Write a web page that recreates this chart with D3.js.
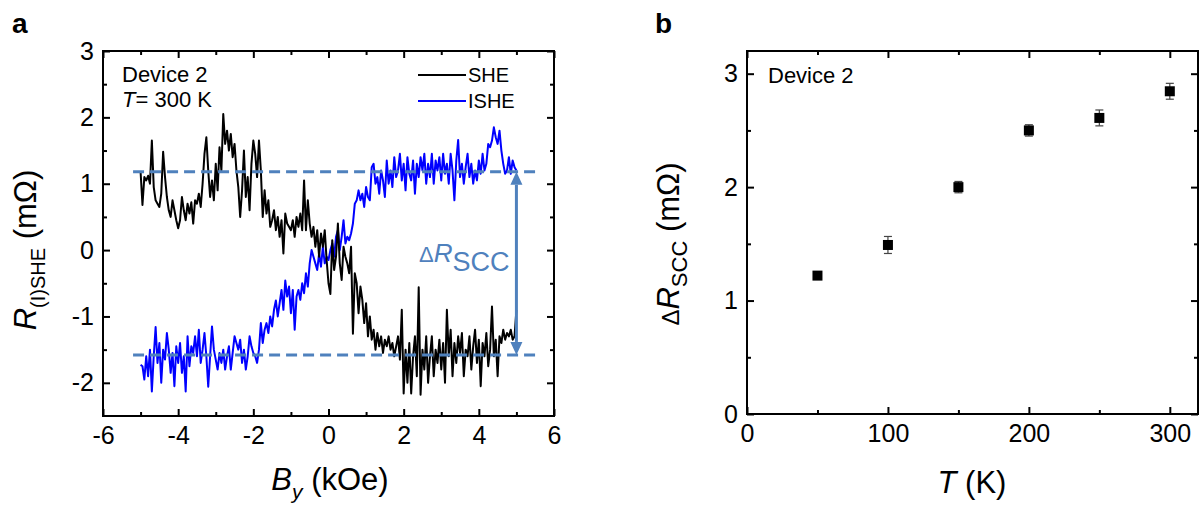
<!DOCTYPE html>
<html>
<head>
<meta charset="utf-8">
<script src="https://cdn.jsdelivr.net/npm/d3@7"></script>
<style>
  body { margin: 0; background: #fff; }
  svg { display: block; }
</style>
</head>
<body>
<div id="chart"></div>
<script>
// -------------------- DATA --------------------

// panel a: field sweep (kOe) and the two signals (mOhm)
const fieldB = [
  -5,-4.95,-4.9,-4.85,-4.8,-4.75,-4.7,-4.65,-4.6,-4.55,-4.5,-4.45,-4.4,-4.35,-4.3,-4.25,-4.2,-4.15,-4.1,-4.05,
  -4,-3.95,-3.9,-3.85,-3.8,-3.75,-3.7,-3.65,-3.6,-3.55,-3.5,-3.45,-3.4,-3.35,-3.3,-3.25,-3.2,-3.15,-3.1,-3.05,
  -3,-2.95,-2.9,-2.85,-2.8,-2.75,-2.7,-2.65,-2.6,-2.55,-2.5,-2.45,-2.4,-2.35,-2.3,-2.25,-2.2,-2.15,-2.1,-2.05,
  -2,-1.95,-1.9,-1.85,-1.8,-1.75,-1.7,-1.65,-1.6,-1.55,-1.5,-1.45,-1.4,-1.35,-1.3,-1.25,-1.2,-1.15,-1.1,-1.05,
  -1,-0.95,-0.9,-0.85,-0.8,-0.75,-0.7,-0.65,-0.6,-0.55,-0.5,-0.45,-0.4,-0.35,-0.3,-0.25,-0.2,-0.15,-0.1,-0.05,
  0,0.05,0.1,0.15,0.2,0.25,0.3,0.35,0.4,0.45,0.5,0.55,0.6,0.65,0.7,0.75,0.8,0.85,0.9,0.95,
  1,1.05,1.1,1.15,1.2,1.25,1.3,1.35,1.4,1.45,1.5,1.55,1.6,1.65,1.7,1.75,1.8,1.85,1.9,1.95,
  2,2.05,2.1,2.15,2.2,2.25,2.3,2.35,2.4,2.45,2.5,2.55,2.6,2.65,2.7,2.75,2.8,2.85,2.9,2.95,
  3,3.05,3.1,3.15,3.2,3.25,3.3,3.35,3.4,3.45,3.5,3.55,3.6,3.65,3.7,3.75,3.8,3.85,3.9,3.95,
  4,4.05,4.1,4.15,4.2,4.25,4.3,4.35,4.4,4.45,4.5,4.55,4.6,4.65,4.7,4.75,4.8,4.85,4.9,4.95,5
];

const sheR = [
  1.18,0.68,1.1,1.05,1.12,1.0,1.65,0.95,0.75,0.7,0.65,0.85,1.48,1.1,0.8,0.6,0.5,0.75,0.6,0.45,
  0.33,0.45,0.8,0.6,0.45,0.7,0.55,0.72,0.4,0.75,0.7,0.85,0.65,1.0,1.45,1.7,1.2,0.8,1.05,0.75,
  1.3,0.9,1.55,1.2,2.05,1.6,1.8,1.5,1.75,1.4,1.6,1.2,0.95,0.5,0.9,1.5,0.8,1.1,0.6,1.3,
  1.65,1.45,1.1,1.65,1.2,0.5,0.9,0.55,0.75,0.35,0.45,0.6,0.3,0.5,0.2,0.45,-0.05,0.55,0.4,0.35,
  0.3,0.45,0.2,0.5,0.35,0.55,0.3,1.05,0.3,0.75,0.4,0.2,0.35,0.05,0.3,-0.1,0.25,0.05,0.3,-0.15,
  -0.5,-0.66,0.15,-0.3,-0.1,0.4,-0.2,-0.45,0.05,-0.1,-0.2,-0.35,0.05,-1.26,-0.35,-0.5,-0.95,-0.55,-0.75,-1.1,
  -0.8,-1.3,-1.0,-1.35,-1.2,-1.5,-1.25,-1.45,-1.3,-1.55,-1.35,-1.45,-1.3,-1.5,-1.4,-1.6,-1.45,-1.3,-1.65,-0.9,
  -2.16,-1.5,-2.0,-1.4,-2.16,-1.6,-1.3,-1.9,-0.56,-2.18,-1.5,-1.8,-1.3,-2.0,-1.6,-1.3,-1.9,-1.5,-1.7,-1.35,
  -1.8,-1.4,-2.0,-0.9,-1.6,-1.2,-1.9,-1.4,-1.7,-1.3,-1.55,-1.25,-1.9,-1.5,-1.6,-1.3,-1.8,-1.45,-1.2,-1.7,
  -1.35,-2.05,-1.4,-1.6,-1.25,-1.75,-1.5,-0.85,-1.6,-1.35,-1.9,-1.3,-1.4,-1.2,-1.35,-1.25,-1.3,-1.2,-1.35,-1.3,-0.9
];

const isheR = [
  -1.73,-1.75,-1.95,-1.6,-1.9,-1.5,-2.13,-1.6,-1.16,-1.7,-1.4,-2.0,-1.5,-1.65,-1.25,-1.5,-1.85,-1.55,-2.05,-1.45,
  -1.7,-1.4,-1.85,-1.6,-2.13,-1.3,-1.75,-1.45,-1.55,-1.3,-1.6,-1.2,-1.7,-1.5,-1.25,-1.6,-2.06,-1.6,-1.15,-1.5,
  -1.65,-1.8,-1.55,-1.7,-1.5,-1.8,-1.6,-1.45,-1.8,-1.55,-1.3,-1.4,-1.5,-1.35,-1.7,-1.5,-1.8,-1.6,-1.3,-1.45,
  -1.55,-1.6,-1.7,-1.5,-1.1,-1.4,-1.2,-1.1,-1.25,-1.0,-1.15,-0.9,-0.76,-1.0,-0.8,-0.6,-0.9,-0.46,-0.7,-0.55,
  -0.95,-0.6,-1.2,-0.7,-0.6,-0.75,-0.5,-0.65,-0.35,-0.55,-0.2,0.0,-0.1,-0.2,-0.3,-0.05,-0.25,0.05,-0.2,-0.1,
  -0.15,0.0,0.1,-0.1,0.2,0.3,0.0,0.2,0.45,0.1,0.2,0.15,0.25,0.4,0.7,0.75,0.9,0.75,0.85,0.65,
  0.95,0.8,0.75,1.25,1.3,1.0,1.1,0.85,1.2,1.05,0.8,1.35,1.0,1.2,0.95,1.4,1.1,1.2,1.45,1.05,
  1.3,0.9,1.4,1.15,1.05,1.35,0.85,1.3,1.1,1.4,1.2,1.45,1.0,1.3,1.1,1.45,1.0,1.35,1.2,1.4,
  1.05,1.45,1.15,1.3,1.0,1.45,1.2,0.75,1.35,1.66,1.1,1.3,1.0,1.25,1.45,1.1,1.3,1.0,1.2,1.05,
  1.35,1.15,1.45,1.2,1.3,1.6,1.55,1.65,1.85,1.7,1.6,1.8,1.5,1.3,1.15,1.2,1.4,1.15,1.35,1.25,1.2
];

// the two saturation levels and where the guide lines / arrow sit
const levelHigh = 1.18, levelLow = -1.58;
const guideFrom = -5.2, guideTo = 5.55, arrowAt = 5.0;

// panel b: temperature dependence
const tempsK = [50, 100, 150, 200, 250, 300];
const deltaR = [1.22, 1.49, 2.0, 2.5, 2.61, 2.845];
const deltaErr = [0.02, 0.075, 0.05, 0.05, 0.07, 0.07];

// ticks
const aXTicks = [-6, -4, -2, 0, 2, 4, 6], aXMinor = [-5, -3, -1, 1, 3, 5];
const aYTicks = [-2, -1, 0, 1, 2, 3], aYMinor = [-1.5, -0.5, 0.5, 1.5, 2.5];
const bXTicks = [0, 100, 200, 300], bXMinor = [50, 150, 250];
const bYTicks = [0, 1, 2, 3], bYMinor = [0.5, 1.5, 2.5];

// -------------------- DRAWING --------------------

const W = 1199, H = 508;
const font = "'Liberation Sans', Arial, sans-serif";
const accent = "#4f81bd";

const svg = d3.select("#chart").append("svg")
  .attr("width", W).attr("height", H)
  .attr("viewBox", [0, 0, W, H])
  .style("font-family", font);

// plain hyphen minus, like the original
const tickFmt = d => String(d);

// draws the frame with inward ticks on all four sides
function frame(g, x, y, xt, xm, yt, ym, fs) {
  const [x0, x1] = x.range(), [y0, y1] = y.range();
  const styleAxis = a => a.call(s => s.select(".domain").remove())
    .call(s => s.selectAll(".tick line").attr("stroke", "#000").attr("stroke-width", 2))
    .call(s => s.selectAll("text").attr("font-size", fs).attr("fill", "#000").attr("font-family", font));

  g.append("g").attr("transform", `translate(0,${y0})`)
    .call(d3.axisBottom(x).tickValues(xt).tickSize(-7).tickPadding(10).tickFormat(tickFmt))
    .call(styleAxis);
  g.append("g").attr("transform", `translate(0,${y0})`)
    .call(d3.axisBottom(x).tickValues(xm).tickSize(-4).tickFormat(""))
    .call(styleAxis);
  g.append("g").attr("transform", `translate(0,${y1})`)
    .call(d3.axisTop(x).tickValues(xt.concat(xm)).tickSize(0).tickFormat(""))
    .call(styleAxis)
    .call(s => s.selectAll(".tick line").attr("y2", d => xt.includes(d) ? 7 : 4));
  g.append("g").attr("transform", `translate(${x0},0)`)
    .call(d3.axisLeft(y).tickValues(yt).tickSize(-7).tickPadding(9).tickFormat(tickFmt))
    .call(styleAxis);
  g.append("g").attr("transform", `translate(${x0},0)`)
    .call(d3.axisLeft(y).tickValues(ym).tickSize(-4).tickFormat(""))
    .call(styleAxis);
  g.append("g").attr("transform", `translate(${x1},0)`)
    .call(d3.axisRight(y).tickValues(yt.concat(ym)).tickSize(0).tickFormat(""))
    .call(styleAxis)
    .call(s => s.selectAll(".tick line").attr("x2", d => yt.includes(d) ? -7 : -4));

  g.append("rect")
    .attr("x", x0).attr("y", y1)
    .attr("width", x1 - x0).attr("height", y0 - y1)
    .attr("fill", "none").attr("stroke", "#000").attr("stroke-width", 2);
}

// ---------- panel a ----------
const xa = d3.scaleLinear().domain([-6, 6]).range([103, 554]);
const ya = d3.scaleLinear().domain([-2.5, 3]).range([416, 51]);
const ga = svg.append("g");

const lineA = d3.line().x((d, i) => xa(fieldB[i])).y(d => ya(d));

ga.append("path").datum(isheR)
  .attr("d", lineA).attr("fill", "none")
  .attr("stroke", "#0000ff").attr("stroke-width", 2).attr("stroke-linejoin", "round");
ga.append("path").datum(sheR)
  .attr("d", lineA).attr("fill", "none")
  .attr("stroke", "#000").attr("stroke-width", 2).attr("stroke-linejoin", "round");

// dashed guides
ga.append("g").selectAll("line")
  .data([levelHigh, levelLow])
  .join("line")
  .attr("x1", xa(guideFrom)).attr("x2", xa(guideTo))
  .attr("y1", d => ya(d)).attr("y2", d => ya(d))
  .attr("stroke", accent).attr("stroke-width", 3)
  .attr("stroke-dasharray", "11,6");

// double arrow
const ax = xa(arrowAt), ah = 13, aw = 6;
ga.append("line")
  .attr("x1", ax).attr("x2", ax)
  .attr("y1", ya(levelHigh) + ah).attr("y2", ya(levelLow) - ah)
  .attr("stroke", accent).attr("stroke-width", 3);
ga.append("path")
  .attr("d", `M${ax},${ya(levelHigh)}L${ax - aw},${ya(levelHigh) + ah}L${ax + aw},${ya(levelHigh) + ah}Z` +
             `M${ax},${ya(levelLow)}L${ax - aw},${ya(levelLow) - ah}L${ax + aw},${ya(levelLow) - ah}Z`)
  .attr("fill", accent);

const dl = ga.append("text").attr("x", 419).attr("y", 262).attr("fill", accent);
dl.append("tspan").attr("font-size", 22).text("Δ");
dl.append("tspan").attr("font-size", 26).attr("font-style", "italic").text("R");
dl.append("tspan").attr("font-size", 27).attr("dy", 9).text("SCC");

frame(ga, xa, ya, aXTicks, aXMinor, aYTicks, aYMinor, 25);

// labels in the plot
ga.append("text").attr("x", 122).attr("y", 82).attr("font-size", 22).text("Device 2");
const tl = ga.append("text").attr("x", 122).attr("y", 107).attr("font-size", 22);
tl.append("tspan").attr("font-style", "italic").text("T");
tl.append("tspan").text("= 300 K");

// legend
const legend = [{ name: "SHE", color: "#000" }, { name: "ISHE", color: "#0000ff" }];
const lg = ga.append("g").selectAll("g").data(legend).join("g")
  .attr("transform", (d, i) => `translate(418,${75 + i * 26})`);
lg.append("line").attr("x1", 0).attr("x2", 48)
  .attr("stroke", d => d.color).attr("stroke-width", 2);
lg.append("text").attr("x", 50).attr("dy", "0.36em").attr("font-size", 20).text(d => d.name);

// axis titles
const xta = ga.append("text").attr("x", 330).attr("y", 490)
  .attr("text-anchor", "middle").attr("font-size", 31);
xta.append("tspan").attr("font-style", "italic").text("B");
xta.append("tspan").attr("font-style", "italic").attr("font-size", 21).attr("dy", 9).text("y");
xta.append("tspan").attr("dy", -9).text(" (kOe)");

const yta = ga.append("text")
  .attr("transform", "translate(36,250) rotate(-90)")
  .attr("text-anchor", "middle").attr("font-size", 31);
yta.append("tspan").attr("font-style", "italic").text("R");
yta.append("tspan").attr("font-size", 20).attr("dy", 9).text("(I)SHE");
yta.append("tspan").attr("dy", -9).text(" (mΩ)");

svg.append("text").attr("x", 12).attr("y", 33)
  .attr("font-size", 28).attr("font-weight", "bold").text("a");

// ---------- panel b ----------
const xb = d3.scaleLinear().domain([0, 320]).range([747, 1198]);
const yb = d3.scaleLinear().domain([0, 3.2]).range([414, 51]);
const gb = svg.append("g");

const pts = tempsK.map((t, i) => ({ t, v: deltaR[i], e: deltaErr[i] }));

const eb = gb.append("g").attr("stroke", "#444").attr("stroke-width", 1.2);
eb.selectAll(".stem").data(pts).join("line")
  .attr("x1", d => xb(d.t)).attr("x2", d => xb(d.t))
  .attr("y1", d => yb(d.v - d.e)).attr("y2", d => yb(d.v + d.e));
eb.selectAll(".capHi").data(pts).join("line")
  .attr("x1", d => xb(d.t) - 4).attr("x2", d => xb(d.t) + 4)
  .attr("y1", d => yb(d.v + d.e)).attr("y2", d => yb(d.v + d.e));
eb.selectAll(".capLo").data(pts).join("line")
  .attr("x1", d => xb(d.t) - 4).attr("x2", d => xb(d.t) + 4)
  .attr("y1", d => yb(d.v - d.e)).attr("y2", d => yb(d.v - d.e));

gb.append("g").selectAll("rect").data(pts).join("rect")
  .attr("x", d => xb(d.t) - 5).attr("y", d => yb(d.v) - 5)
  .attr("width", 10).attr("height", 10).attr("fill", "#000");

frame(gb, xb, yb, bXTicks, bXMinor, bYTicks, bYMinor, 25);

gb.append("text").attr("x", 768).attr("y", 83).attr("font-size", 22).text("Device 2");

const xtb = gb.append("text").attr("x", 972).attr("y", 493)
  .attr("text-anchor", "middle").attr("font-size", 31);
xtb.append("tspan").attr("font-style", "italic").text("T");
xtb.append("tspan").text(" (K)");

const ytb = gb.append("text")
  .attr("transform", "translate(679,244) rotate(-90)")
  .attr("text-anchor", "middle").attr("font-size", 31);
ytb.append("tspan").attr("font-size", 24).text("Δ");
ytb.append("tspan").attr("font-style", "italic").text("R");
ytb.append("tspan").attr("font-size", 22).attr("dy", 8).text("SCC");
ytb.append("tspan").attr("dy", -8).text(" (mΩ)");

svg.append("text").attr("x", 655).attr("y", 33)
  .attr("font-size", 28).attr("font-weight", "bold").text("b");
</script>
</body>
</html>
